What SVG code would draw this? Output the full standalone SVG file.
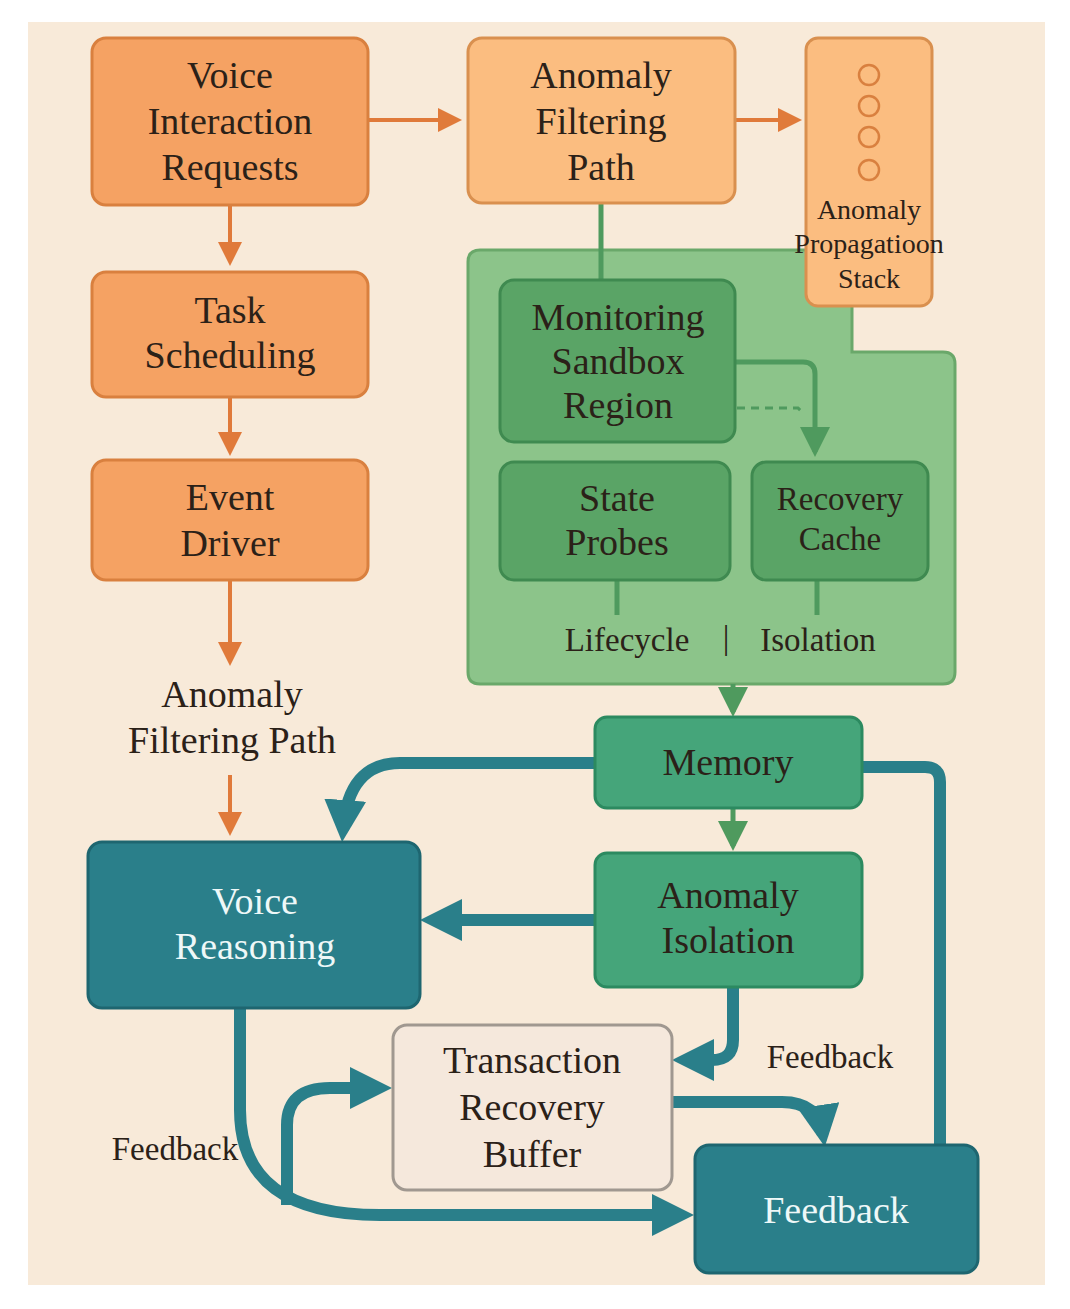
<svg xmlns="http://www.w3.org/2000/svg" width="1070" height="1309" viewBox="0 0 1070 1309">
<defs>
<marker id="ao" markerWidth="6" markerHeight="6" refX="5" refY="3" orient="auto" markerUnits="strokeWidth"><path d="M0,0 L6,3 L0,6 Z" fill="#e07a3a"/></marker>
<marker id="ag" markerWidth="6" markerHeight="6" refX="5" refY="3" orient="auto" markerUnits="strokeWidth"><path d="M0,0 L6,3 L0,6 Z" fill="#4f9a5e"/></marker>
<marker id="at" markerWidth="3.5" markerHeight="3.5" refX="2.5" refY="1.75" orient="auto" markerUnits="strokeWidth"><path d="M0,0 L3.5,1.75 L0,3.5 Z" fill="#2a7f8a"/></marker>
</defs>
<style>
text{font-family:"Liberation Serif",serif;text-anchor:middle;fill:#2b2118}
.t{font-size:38px}
.s{font-size:33px}
.o{fill:#f5a263;stroke:#d9803f;stroke-width:3}
.l{fill:#fbbd80;stroke:#d9904f;stroke-width:3}
.dg{fill:#5aa466;stroke:#3f8a50;stroke-width:3}
.mg{fill:#45a57a;stroke:#2c8a60;stroke-width:3}
.tl{fill:#2a7f8a;stroke:#1e6670;stroke-width:3}
.w{fill:#eef8f8}
.co{stroke:#e07a3a;stroke-width:4;fill:none}
.cg{stroke:#4f9a5e;stroke-width:5;fill:none}
.ct{stroke:#2a7f8a;stroke-width:12;fill:none}
</style>
<rect width="1070" height="1309" fill="#ffffff"/>
<rect x="28" y="22" width="1017" height="1263" fill="#f8ead9"/>
<g id="region"><path d="M480,250 H852 V352 H943 Q955,352 955,364 V672 Q955,684 943,684 H480 Q468,684 468,672 V262 Q468,250 480,250 Z" fill="#8cc48a" stroke="#6aa86a" stroke-width="3"/></g>
<g id="connectors">
<path class="co" marker-end="url(#ao)" d="M368,120 H458"/>
<path class="co" marker-end="url(#ao)" d="M735,120 H798"/>
<path class="co" marker-end="url(#ao)" d="M230,205 V262"/>
<path class="co" marker-end="url(#ao)" d="M230,397 V452"/>
<path class="co" marker-end="url(#ao)" d="M230,580 V662"/>
<path class="co" marker-end="url(#ao)" d="M230,775 V832"/>
<path class="cg" d="M601,203 V280"/>
<path class="cg" marker-end="url(#ag)" d="M735,362 H803 Q815,362 815,374 V452"/>
<path d="M737,408 H798 L804,414" stroke="#4f9a5e" stroke-width="3" stroke-dasharray="8,6" fill="none"/>
<path class="cg" d="M617,580 V615 M817,580 V615"/>
<path class="cg" marker-end="url(#ag)" d="M733,684 V712"/>
<path class="cg" marker-end="url(#ag)" d="M733,808 V846"/>
<path class="ct" marker-end="url(#at)" d="M595,763 H400 Q348,763 343,830"/>
<path class="ct" d="M862,767 H925 Q940,767 940,782 V1160"/>
<path class="ct" marker-end="url(#at)" d="M595,920 H432"/>
<path class="ct" marker-end="url(#at)" d="M733,987 V1040 Q733,1060 712,1060 H684"/>
<path class="ct" marker-end="url(#at)" d="M672,1102 H782 Q818,1102 823,1135"/>
<path class="ct" marker-end="url(#at)" d="M240,1008 V1110 Q240,1215 380,1215 H682"/>
<path class="ct" marker-end="url(#at)" d="M287,1205 V1125 Q287,1088 330,1088 H380"/>
</g>
<g id="voice-interaction"><rect class="o" x="92" y="38" width="276" height="167" rx="14"/><text class="t" x="230" y="88">Voice</text><text class="t" x="230" y="134">Interaction</text><text class="t" x="230" y="180">Requests</text></g>
<g id="task-scheduling"><rect class="o" x="92" y="272" width="276" height="125" rx="14"/><text class="t" x="230" y="323">Task</text><text class="t" x="230" y="368">Scheduling</text></g>
<g id="event-driver"><rect class="o" x="92" y="460" width="276" height="120" rx="14"/><text class="t" x="230" y="510">Event</text><text class="t" x="230" y="556">Driver</text></g>
<g id="afp-label"><text class="t" x="232" y="707">Anomaly</text><text class="t" x="232" y="753">Filtering Path</text></g>
<g id="anomaly-filtering"><rect class="l" x="468" y="38" width="267" height="165" rx="14"/><text class="t" x="601" y="88">Anomaly</text><text class="t" x="601" y="134">Filtering</text><text class="t" x="601" y="180">Path</text></g>
<g id="propagation-stack"><rect class="l" x="806" y="38" width="126" height="268" rx="12"/>
<g fill="none" stroke="#d9803f" stroke-width="2.5"><circle cx="869" cy="75" r="10"/><circle cx="869" cy="106" r="10"/><circle cx="869" cy="137" r="10"/><circle cx="869" cy="170" r="10"/></g>
<text x="869" y="219" font-size="28">Anomaly</text><text x="869" y="253" font-size="28">Propagatioon</text><text x="869" y="288" font-size="28">Stack</text></g>
<g id="monitoring"><rect class="dg" x="500" y="280" width="235" height="162" rx="14"/><text class="t" x="618" y="330">Monitoring</text><text class="t" x="618" y="374">Sandbox</text><text class="t" x="618" y="418">Region</text></g>
<g id="state-probes"><rect class="dg" x="500" y="462" width="230" height="118" rx="14"/><text class="t" x="617" y="511">State</text><text class="t" x="617" y="555">Probes</text></g>
<g id="recovery-cache"><rect class="dg" x="752" y="462" width="176" height="118" rx="14"/><text class="s" x="840" y="510">Recovery</text><text class="s" x="840" y="550">Cache</text></g>
<g id="lifecycle-label"><text class="s" x="627" y="651">Lifecycle</text><text class="s" x="726" y="649">|</text><text class="s" x="818" y="651">Isolation</text></g>
<g id="memory"><rect class="mg" x="595" y="717" width="267" height="91" rx="12"/><text class="t" x="728" y="775">Memory</text></g>
<g id="anomaly-isolation"><rect class="mg" x="595" y="853" width="267" height="134" rx="12"/><text class="t" x="728" y="908">Anomaly</text><text class="t" x="728" y="953">Isolation</text></g>
<g id="voice-reasoning"><rect class="tl" x="88" y="842" width="332" height="166" rx="14"/><text class="t w" x="255" y="914">Voice</text><text class="t w" x="255" y="959">Reasoning</text></g>
<g id="trb"><rect x="393" y="1025" width="279" height="165" rx="14" fill="#f5e8dc" stroke="#a09890" stroke-width="3"/><text class="t" x="532" y="1073">Transaction</text><text class="t" x="532" y="1120">Recovery</text><text class="t" x="532" y="1167">Buffer</text></g>
<g id="feedback"><rect class="tl" x="695" y="1145" width="283" height="128" rx="14"/><text class="t w" x="836" y="1223">Feedback</text></g>
<g id="feedback-labels"><text class="s" x="830" y="1068">Feedback</text><text class="s" x="175" y="1160">Feedback</text></g>
</svg>
